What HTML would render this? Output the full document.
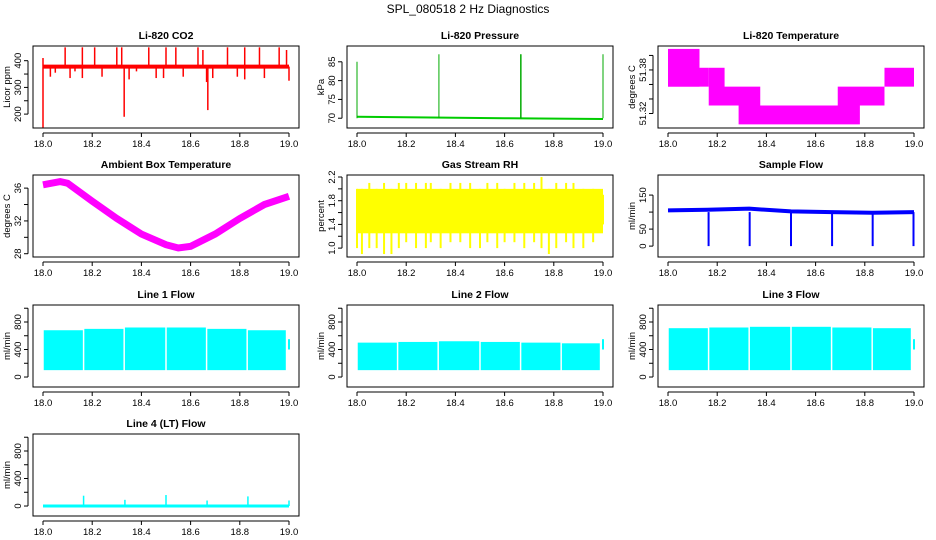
<!DOCTYPE html>
<html><head><meta charset="utf-8"><style>
html,body{margin:0;padding:0;background:#fff;}
svg{display:block;font-family:"Liberation Sans",Arial,sans-serif;}
</style></head><body>
<svg id="c" width="936" height="540" xmlns="http://www.w3.org/2000/svg">
<text x="468" y="13" text-anchor="middle" font-size="12">SPL_080518  2 Hz Diagnostics</text>
</svg>
<script>
// ---- data ----
const xTicks = [18.0, 18.2, 18.4, 18.6, 18.8, 19.0];
const co2Base = [[18.0, 378], [19.0, 378]];
const co2Spikes = [[18.0,150],[18.0,410],[18.03,340],[18.05,355],[18.09,450],[18.11,335],[18.13,360],[18.16,450],[18.16,335],[18.21,450],[18.24,340],[18.3,450],[18.32,450],[18.33,190],[18.35,330],[18.38,360],[18.43,450],[18.46,335],[18.5,450],[18.49,335],[18.54,450],[18.57,340],[18.63,450],[18.65,440],[18.665,320],[18.67,215],[18.69,335],[18.75,450],[18.79,340],[18.82,450],[18.82,330],[18.88,450],[18.9,335],[18.96,450],[18.99,440],[19.0,325]];
const presBase = [[18.0,70.4],[18.3,70.2],[18.6,70.0],[19.0,69.8]];
const presSpikes = [[18.0,85],[18.333,87],[18.665,87],[18.667,87],[19.0,87]];
const tempSegs = [[18.0,18.128,51.357,51.409],[18.0,18.166,51.357,51.383],[18.166,18.23,51.331,51.383],[18.166,18.375,51.331,51.357],[18.287,18.78,51.305,51.331],[18.69,18.88,51.331,51.357],[18.88,19.0,51.357,51.383]];
const ambientT = [18.0,18.07,18.1,18.2,18.3,18.4,18.5,18.55,18.6,18.7,18.8,18.9,19.0];
const ambientV = [36.4,36.8,36.6,34.4,32.3,30.4,29.1,28.7,28.9,30.4,32.3,34.0,35.0];
const rhSpikesT = [18.0,18.02,18.05,18.08,18.11,18.14,18.17,18.2,18.24,18.28,18.3,18.34,18.38,18.42,18.46,18.5,18.53,18.57,18.6,18.64,18.68,18.72,18.75,18.78,18.81,18.85,18.88,18.92,18.96,19.0];
const rhSpikesLo = [1.0,0.9,1.0,1.0,0.9,0.9,1.0,1.1,1.0,1.0,1.1,1.0,1.1,1.1,1.0,1.0,1.1,1.0,1.1,1.1,1.0,1.1,1.0,0.9,1.0,1.1,1.0,1.0,1.1,1.4];
const rhSpikesHi = [2.0,2.0,2.1,2.0,2.1,2.0,2.1,2.1,2.1,2.1,2.1,2.0,2.1,2.1,2.1,2.0,2.1,2.1,2.0,2.1,2.1,2.1,2.2,2.0,2.1,2.1,2.1,2.0,2.0,1.9];
const sampleT = [18.0,18.16,18.33,18.5,18.665,18.83,19.0];
const sampleV = [105,107,110,102,100,98,100];
const sampleDrops = [18.165,18.332,18.5,18.667,18.832,18.998];
const gapT = [18.165,18.33,18.5,18.665,18.83];
const line1Top = [680,700,720,720,700,680];
const line2Top = [500,510,520,510,500,490];
const line3Top = [710,720,730,730,720,710];
const line4SpikeT = [18.165,18.333,18.5,18.667,18.833,19.0];
const line4SpikeV = [150,90,160,80,140,80];

// ---- layout ----
const svg = document.getElementById('c');
const NS = 'http://www.w3.org/2000/svg';
const colX = [33, 347, 658];
const rowY = [46, 175, 305, 434];
const BW = 266, BH = 82;
function mk(tag, attrs, parent){const e=document.createElementNS(NS,tag);for(const k in attrs)e.setAttribute(k,attrs[k]);(parent||svg).appendChild(e);return e;}

function panel(col,row,title,ytitle,ylo,yhi,ticks,labels,name){
  const L=colX[col],T=rowY[row];
  const g=mk('g',{});
  
  
  const sx=v=>L+10+(v-18)*(BW-20);
  const sy=v=>T+BH-(v-ylo)/(yhi-ylo)*BH;
  const t=mk('text',{x:L+BW/2,y:T-7,'text-anchor':'middle','font-size':'10.5','font-weight':'bold'},g);t.textContent=title;
  
  
  const plot=mk('g',{},g);
  
  
  const box=mk('rect',{x:L,y:T,width:BW,height:BH,fill:'none',stroke:'#000','stroke-width':1},g);
  
  
  const xa=mk('g',{},g);
  
  
  mk('line',{x1:sx(18),x2:sx(19),y1:T+BH+5,y2:T+BH+5,stroke:'#000'},xa);
  xTicks.forEach(v=>{mk('line',{x1:sx(v),x2:sx(v),y1:T+BH+5,y2:T+BH+9,stroke:'#000'},xa);
    const tx=mk('text',{x:sx(v),y:T+BH+19,'text-anchor':'middle','font-size':'9.5'},xa);tx.textContent=v.toFixed(1);});
  const ya=mk('g',{},g);
  
  
  mk('line',{x1:L-5,x2:L-5,y1:sy(ticks[0]),y2:sy(ticks[ticks.length-1]),stroke:'#000'},ya);
  ticks.forEach(v=>{mk('line',{x1:L-9,x2:L-5,y1:sy(v),y2:sy(v),stroke:'#000'},ya);});
  labels.forEach(v=>{const yy=sy(parseFloat(v));const tx=mk('text',{x:L-12,y:yy,'text-anchor':'middle','font-size':'9.5',transform:`rotate(-90 ${L-12} ${yy})`},ya);tx.textContent=v;});
  const yt=mk('text',{x:L-23,y:T+BH/2,'text-anchor':'middle','font-size':'9.5',transform:`rotate(-90 ${L-23} ${T+BH/2})`},ya);yt.textContent=ytitle;
  
  
  return {sx,sy,plot};
}
function vline(p,x,y0,y1,c,w){mk('line',{x1:p.sx(x),x2:p.sx(x),y1:p.sy(y0),y2:p.sy(y1),stroke:c,'stroke-width':w||1.5},p.plot);}
function poly(p,pts,c,w){mk('polyline',{points:pts.map(d=>p.sx(d[0])+','+p.sy(d[1])).join(' '),fill:'none',stroke:c,'stroke-width':w},p.plot);}
function rect(p,x0,x1,lo,hi,c){mk('rect',{x:p.sx(x0),y:p.sy(hi),width:p.sx(x1)-p.sx(x0),height:p.sy(lo)-p.sy(hi),fill:c},p.plot);}

// CO2
let p=panel(0,0,'Li-820 CO2','Licor ppm',148,455,[200,250,300,350,400],['200','300','400'],'co2');
poly(p,co2Base,'#f00',4);
co2Spikes.forEach(d=>vline(p,d[0],378,d[1],'#f00',1.5));
// Pressure
p=panel(1,0,'Li-820 Pressure','kPa',67.4,89.2,[70,75,80,85],['70','75','80','85'],'pressure');
poly(p,presBase,'#0c0',2);
presSpikes.forEach(d=>vline(p,d[0],70,d[1],'#0a0',1));
// Li-820 temp
p=panel(2,0,'Li-820 Temperature','degrees C',51.30,51.413,[51.32,51.34,51.36,51.38,51.40],['51.32','51.38'],'li820-temp');
tempSegs.forEach(s=>rect(p,s[0],s[1],s[2],s[3],'#f0f'));
// Ambient
p=panel(0,1,'Ambient Box Temperature','degrees C',27.6,37.6,[28,30,32,34,36],['28','32','36'],'ambient-temp');
poly(p,ambientT.map((t,i)=>[t,ambientV[i]]),'#f0f',7);
// RH
p=panel(1,1,'Gas Stream RH','percent',0.85,2.234,[1.0,1.2,1.4,1.6,1.8,2.0,2.2],['1.0','1.4','1.8','2.2'],'gas-rh');
rect(p,18.0,19.0,1.25,2.0,'#ff0');
rhSpikesT.forEach((t,i)=>{vline(p,t,1.5,rhSpikesLo[i],'#ff0',2);vline(p,t,1.5,rhSpikesHi[i],'#ff0',2);});
// Sample flow
p=panel(2,1,'Sample Flow','ml/min',-32,209,[0,50,100,150],['0','50','150'],'sample-flow');
poly(p,sampleT.map((t,i)=>[t,sampleV[i]]),'#00f',4);
sampleDrops.forEach(t=>vline(p,t,100,0,'#00f',2));
// Line flows
function flow(col,row,title,tops,name){
  const q=panel(col,row,title,'ml/min',-145,1047,[0,200,400,600,800,1000],['0','400','800'],name);
  const edges=[18.0].concat(gapT).concat([18.99]);
  for(let i=0;i<tops.length;i++){rect(q,edges[i]+0.003,edges[i+1]-0.003,100,tops[i],'#0ff');}
  vline(q,19.0,400,550,'#0ff',2);
  return q;
}
flow(0,2,'Line 1 Flow',line1Top,'line1-flow');
flow(1,2,'Line 2 Flow',line2Top,'line2-flow');
flow(2,2,'Line 3 Flow',line3Top,'line3-flow');
p=panel(0,3,'Line 4 (LT) Flow','ml/min',-145,1047,[0,200,400,600,800,1000],['0','400','800'],'line4-flow');
poly(p,[[18.0,0],[19.0,0]],'#0ff',3);
line4SpikeT.forEach((t,i)=>vline(p,t,0,line4SpikeV[i],'#0ff',1.5));
</script>
</body></html>
